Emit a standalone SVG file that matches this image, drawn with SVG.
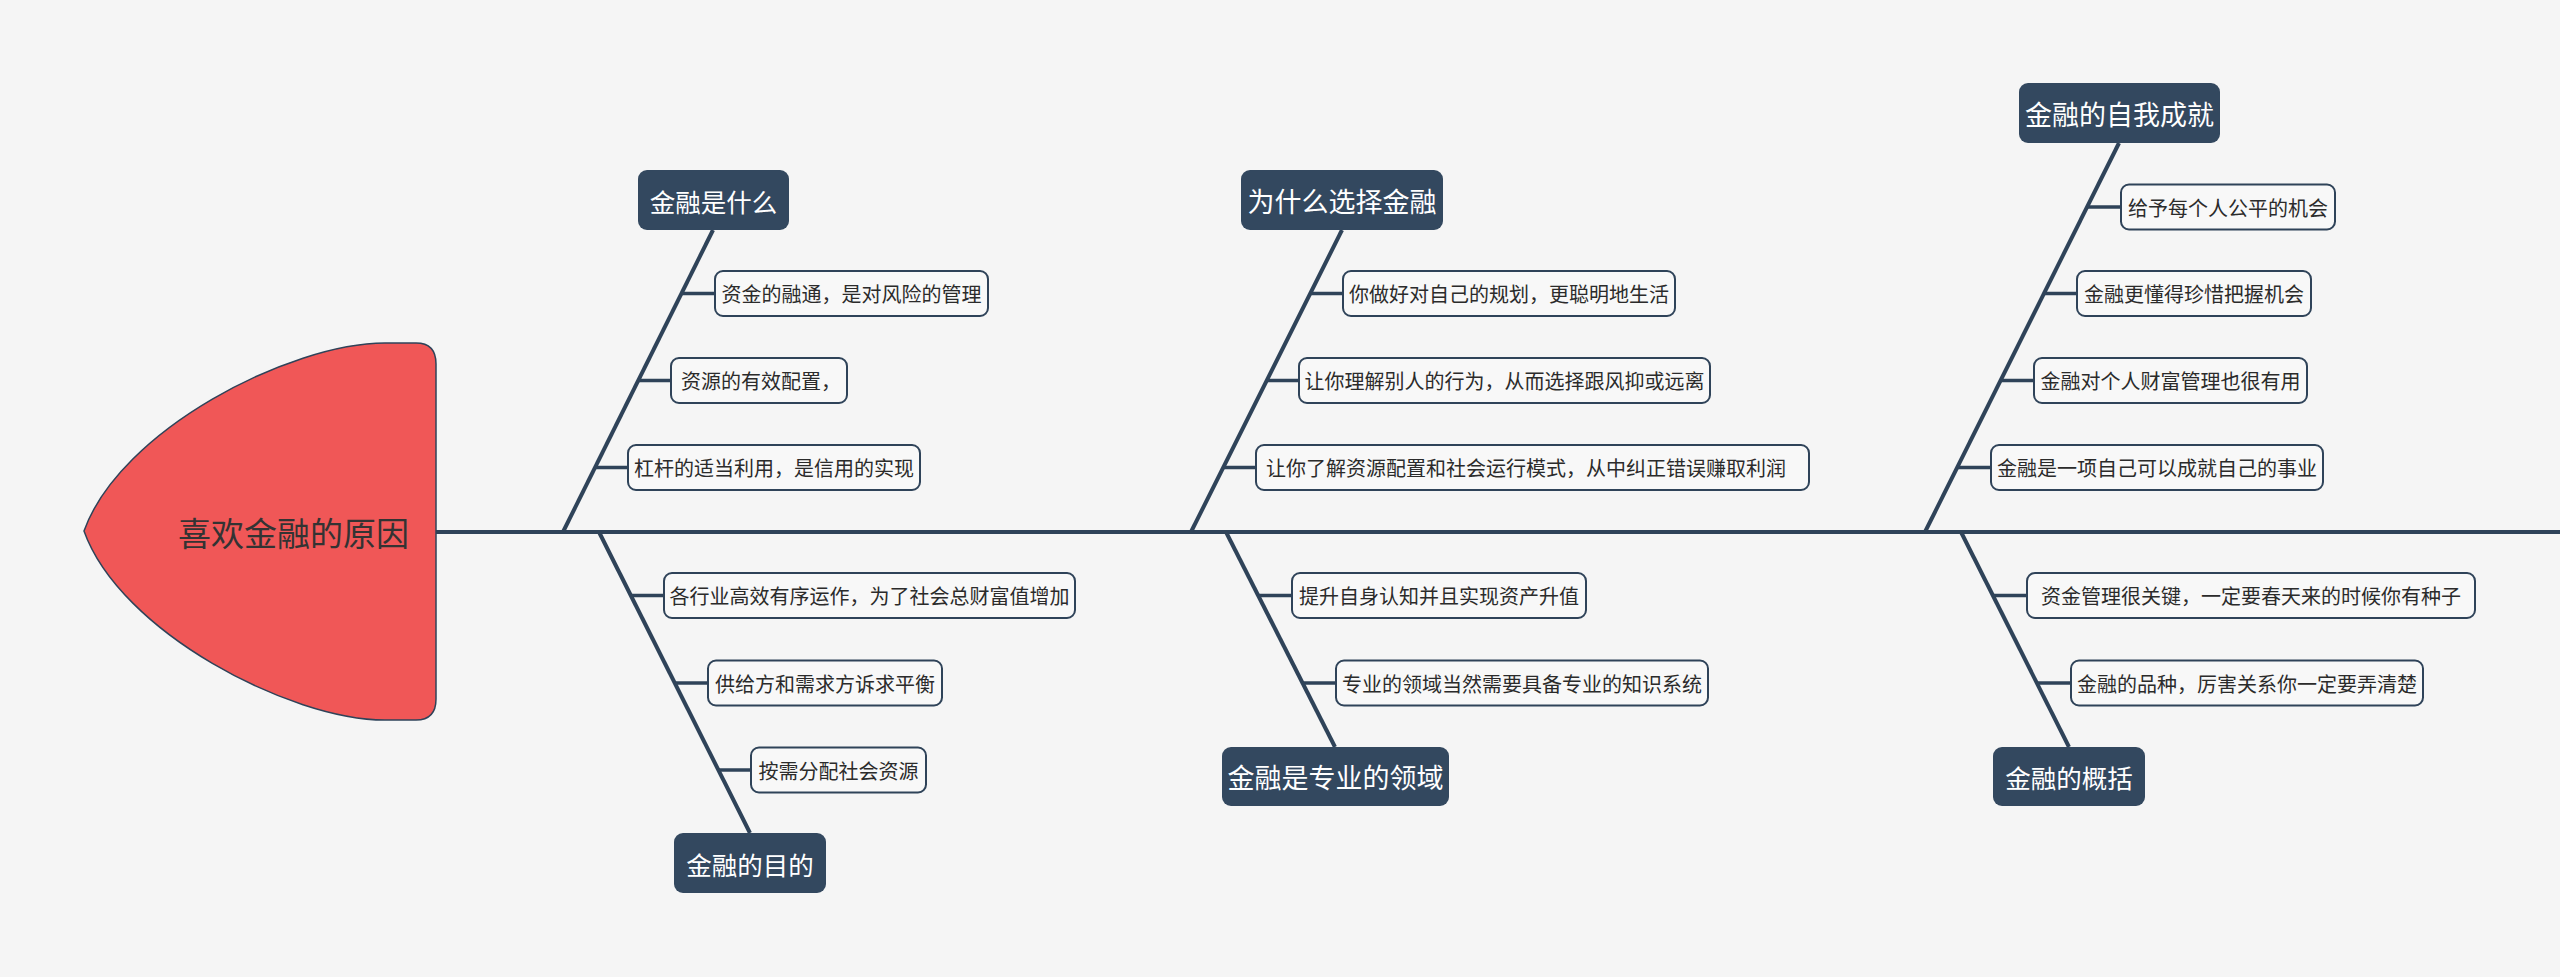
<svg xmlns="http://www.w3.org/2000/svg" width="2560" height="977" viewBox="0 0 2560 977">
<style>
.bg{fill:#f5f5f5}
.ln{stroke:#2f4359;stroke-width:4;fill:none;stroke-linecap:butt}
.st{stroke:#2f4359;stroke-width:3.5;fill:none}
.topic{fill:#33485f}
.tt{font-family:"Noto Sans CJK SC","Noto Sans",sans-serif;font-size:27px;fill:#ffffff;text-anchor:middle;dominant-baseline:central}
.t5{font-size:25.5px}
.sub{fill:#f8f8f8;stroke:#2f4359;stroke-width:2}
.sx{font-family:"Noto Sans CJK SC","Noto Sans",sans-serif;font-size:20px;fill:#2b2b2b;text-anchor:middle;dominant-baseline:central}
.sxl{text-anchor:start}
.root{fill:#f05757;stroke:#2f4359;stroke-width:1.5}
.rt{font-family:"Noto Sans CJK SC","Noto Sans",sans-serif;font-size:33px;fill:#333333;dominant-baseline:central}
</style>
<rect class="bg" x="0" y="0" width="2560" height="977"/>

<g id="connectors">
  <line class="ln" x1="434" y1="532" x2="2560" y2="532"/>
  <line class="ln" x1="563" y1="532" x2="713" y2="230"/>
  <line class="ln" x1="1191" y1="532" x2="1342" y2="230"/>
  <line class="ln" x1="1925" y1="532" x2="2119" y2="143"/>
  <line class="ln" x1="599" y1="532" x2="750" y2="833"/>
  <line class="ln" x1="1226" y1="532" x2="1335" y2="747"/>
  <line class="ln" x1="1961" y1="532" x2="2069" y2="747"/>
  <line class="st" x1="681" y1="293.5" x2="715" y2="293.5"/>
  <line class="st" x1="638" y1="380.5" x2="671" y2="380.5"/>
  <line class="st" x1="595" y1="467.5" x2="628" y2="467.5"/>
  <line class="st" x1="1311" y1="293.5" x2="1343" y2="293.5"/>
  <line class="st" x1="1267" y1="380.5" x2="1299" y2="380.5"/>
  <line class="st" x1="1224" y1="467.5" x2="1256" y2="467.5"/>
  <line class="st" x1="2088" y1="207" x2="2121" y2="207"/>
  <line class="st" x1="2045" y1="293.5" x2="2077" y2="293.5"/>
  <line class="st" x1="2001" y1="380.5" x2="2034" y2="380.5"/>
  <line class="st" x1="1958" y1="467.5" x2="1991" y2="467.5"/>
  <line class="st" x1="631" y1="595.5" x2="664" y2="595.5"/>
  <line class="st" x1="675" y1="683" x2="708" y2="683"/>
  <line class="st" x1="718" y1="770" x2="751" y2="770"/>
  <line class="st" x1="1259" y1="595.5" x2="1292" y2="595.5"/>
  <line class="st" x1="1303" y1="683" x2="1336" y2="683"/>
  <line class="st" x1="1993" y1="595.5" x2="2027" y2="595.5"/>
  <line class="st" x1="2038" y1="683" x2="2071" y2="683"/>
</g>

<g id="root">
  <path class="root" d="M 84 531 C 120 430 290 343 385 343 L 416 343 Q 436 343 436 364 L 436 699 Q 436 720 416 720 L 385 720 C 290 720 120 632 84 531 Z"/>
  <text class="rt" x="178" y="532">喜欢金融的原因</text>
</g>

<g id="topic-what">
  <rect class="topic" x="638" y="170" width="151" height="60" rx="9"/>
  <text class="tt t5" x="713.5" y="200">金融是什么</text>
</g>
<g id="sub-what-1">
  <rect class="sub" x="715" y="271" width="273" height="45" rx="8"/>
  <text class="sx" x="851.5" y="293.5">资金的融通，是对风险的管理</text>
</g>
<g id="sub-what-2">
  <rect class="sub" x="671" y="358" width="176" height="45" rx="8"/>
  <text class="sx sxl" x="681" y="380.5">资源的有效配置，</text>
</g>
<g id="sub-what-3">
  <rect class="sub" x="628" y="445" width="292" height="45" rx="8"/>
  <text class="sx" x="774" y="467.5">杠杆的适当利用，是信用的实现</text>
</g>

<g id="topic-why">
  <rect class="topic" x="1241" y="170" width="202" height="60" rx="9"/>
  <text class="tt" x="1342" y="200">为什么选择金融</text>
</g>
<g id="sub-why-1">
  <rect class="sub" x="1343" y="271" width="332" height="45" rx="8"/>
  <text class="sx" x="1509" y="293.5">你做好对自己的规划，更聪明地生活</text>
</g>
<g id="sub-why-2">
  <rect class="sub" x="1299" y="358" width="411" height="45" rx="8"/>
  <text class="sx" x="1504.5" y="380.5">让你理解别人的行为，从而选择跟风抑或远离</text>
</g>
<g id="sub-why-3">
  <rect class="sub" x="1256" y="445" width="553" height="45" rx="8"/>
  <text class="sx sxl" x="1266" y="467.5">让你了解资源配置和社会运行模式，从中纠正错误赚取利润</text>
</g>

<g id="topic-achieve">
  <rect class="topic" x="2019" y="83" width="201" height="60" rx="9"/>
  <text class="tt" x="2119.5" y="113">金融的自我成就</text>
</g>
<g id="sub-achieve-1">
  <rect class="sub" x="2121" y="184.5" width="214" height="45" rx="8"/>
  <text class="sx" x="2228" y="207">给予每个人公平的机会</text>
</g>
<g id="sub-achieve-2">
  <rect class="sub" x="2077" y="271" width="234" height="45" rx="8"/>
  <text class="sx" x="2194" y="293.5">金融更懂得珍惜把握机会</text>
</g>
<g id="sub-achieve-3">
  <rect class="sub" x="2034" y="358" width="273" height="45" rx="8"/>
  <text class="sx" x="2170.5" y="380.5">金融对个人财富管理也很有用</text>
</g>
<g id="sub-achieve-4">
  <rect class="sub" x="1991" y="445" width="332" height="45" rx="8"/>
  <text class="sx" x="2157" y="467.5">金融是一项自己可以成就自己的事业</text>
</g>

<g id="topic-purpose">
  <rect class="topic" x="674" y="833" width="152" height="60" rx="9"/>
  <text class="tt t5" x="750" y="863">金融的目的</text>
</g>
<g id="sub-purpose-1">
  <rect class="sub" x="664" y="573" width="411" height="45" rx="8"/>
  <text class="sx" x="869.5" y="595.5">各行业高效有序运作，为了社会总财富值增加</text>
</g>
<g id="sub-purpose-2">
  <rect class="sub" x="708" y="660.5" width="234" height="45" rx="8"/>
  <text class="sx" x="825" y="683">供给方和需求方诉求平衡</text>
</g>
<g id="sub-purpose-3">
  <rect class="sub" x="751" y="747.5" width="175" height="45" rx="8"/>
  <text class="sx" x="838.5" y="770">按需分配社会资源</text>
</g>

<g id="topic-professional">
  <rect class="topic" x="1222" y="747" width="227" height="59" rx="9"/>
  <text class="tt" x="1335.5" y="776.5">金融是专业的领域</text>
</g>
<g id="sub-professional-1">
  <rect class="sub" x="1292" y="573" width="294" height="45" rx="8"/>
  <text class="sx" x="1439" y="595.5">提升自身认知并且实现资产升值</text>
</g>
<g id="sub-professional-2">
  <rect class="sub" x="1336" y="660.5" width="372" height="45" rx="8"/>
  <text class="sx" x="1522" y="683">专业的领域当然需要具备专业的知识系统</text>
</g>

<g id="topic-summary">
  <rect class="topic" x="1993" y="747" width="152" height="59" rx="9"/>
  <text class="tt t5" x="2069" y="776.5">金融的概括</text>
</g>
<g id="sub-summary-1">
  <rect class="sub" x="2027" y="573" width="448" height="45" rx="8"/>
  <text class="sx" x="2251" y="595.5">资金管理很关键，一定要春天来的时候你有种子</text>
</g>
<g id="sub-summary-2">
  <rect class="sub" x="2071" y="660.5" width="352" height="45" rx="8"/>
  <text class="sx" x="2247" y="683">金融的品种，厉害关系你一定要弄清楚</text>
</g>
</svg>
